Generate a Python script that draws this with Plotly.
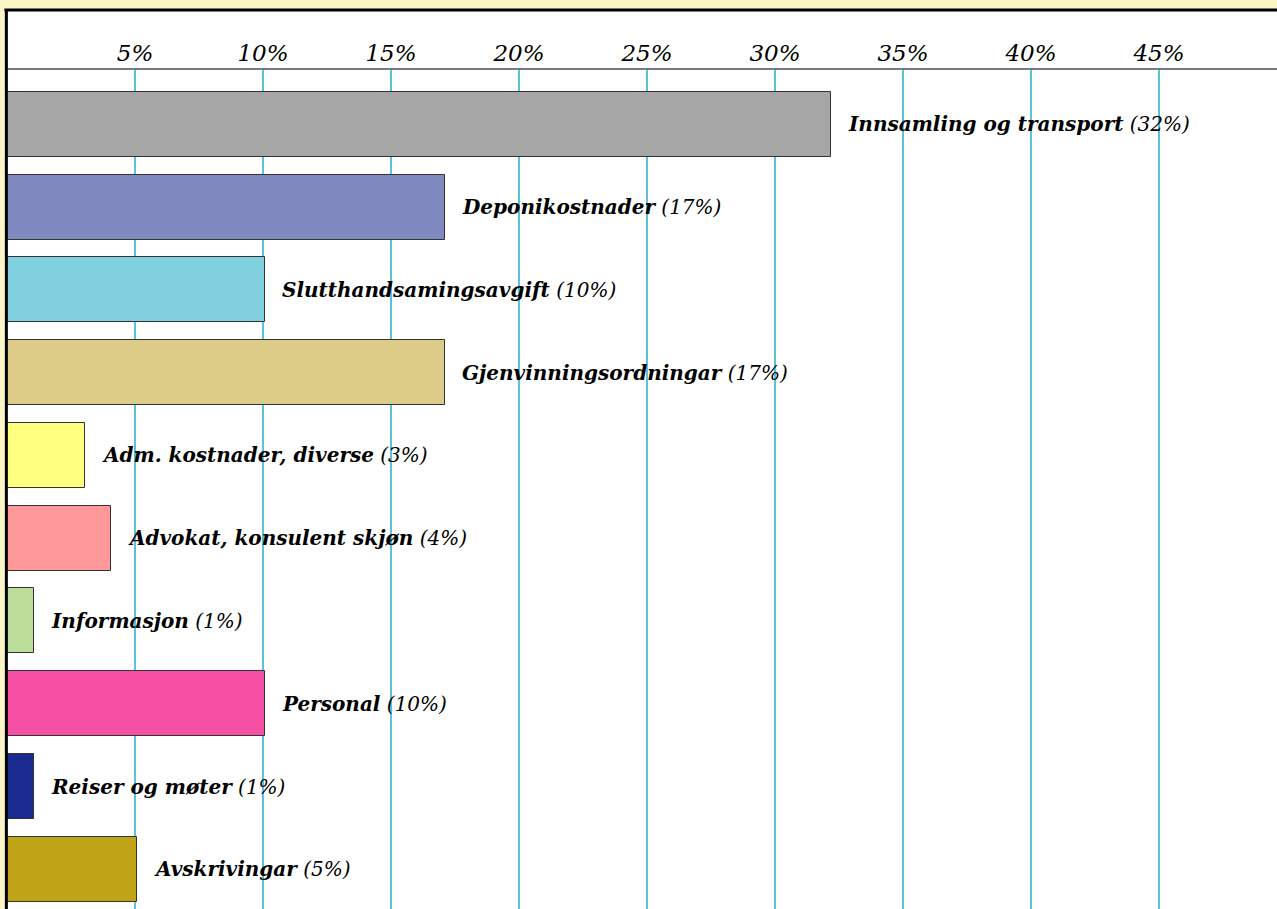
import plotly.graph_objects as go

categories = [
    "Innsamling og transport",
    "Deponikostnader",
    "Slutthandsamingsavgift",
    "Gjenvinningsordningar",
    "Adm. kostnader, diverse",
    "Advokat, konsulent skjøn",
    "Informasjon",
    "Personal",
    "Reiser og møter",
    "Avskrivingar",
]
values = [32.2, 17.1, 10.08, 17.1, 3.06, 4.06, 1.05, 10.08, 1.05, 5.06]
pct_labels = ["32%", "17%", "10%", "17%", "3%", "4%", "1%", "10%", "1%", "5%"]
colors = ["#A6A6A6", "#8088C0", "#80D0E0", "#DDCC88", "#FFFF80",
          "#FF9999", "#BBDD99", "#F650A4", "#1A2A90", "#C0A418"]
tick_vals = [5, 10, 15, 20, 25, 30, 35, 40, 45]
tick_text = ["5%", "10%", "15%", "20%", "25%", "30%", "35%", "40%", "45%"]

SERIF = "DejaVu Serif"
BG = "#FBF6C8"

fig = go.Figure(go.Bar(
    x=values, y=categories, orientation="h",
    marker=dict(color=colors, line=dict(color="#333333", width=1)),
    width=0.785, hoverinfo="skip",
))

for c, v, p in zip(categories, values, pct_labels):
    fig.add_annotation(
        x=v, y=c, xref="x", yref="y", xanchor="left", yanchor="middle",
        xshift=15, showarrow=False,
        text=f"<b>{c}</b> ({p})",
        font=dict(family=SERIF, size=20, color="black", style="italic"),
    )

H = 909
T = 70
ph = H - T
def py(pix):
    return (H - pix) / ph

fig.update_layout(
    width=1277, height=909,
    margin=dict(l=7, r=0, t=T, b=0, pad=0),
    paper_bgcolor=BG,
    plot_bgcolor="white",
    showlegend=False,
    bargap=0,
    shapes=[
        dict(type="rect", xref="paper", yref="paper", x0=0, x1=1.01,
             y0=-0.01, y1=py(10), fillcolor="white", line=dict(width=0), layer="below"),
        dict(type="line", xref="paper", yref="paper", x0=-0.0005, x1=-0.0005,
             y0=-0.01, y1=py(9), line=dict(color="black", width=3), layer="above"),
        dict(type="line", xref="paper", yref="paper", x0=-0.002, x1=1.01,
             y0=py(10), y1=py(10), line=dict(color="black", width=3), layer="above"),
    ],
    xaxis=dict(
        side="top", range=[0, 1270 / 25.6],
        tickvals=tick_vals, ticktext=tick_text,
        tickfont=dict(family=SERIF, size=23, color="black", style="italic"),
        showgrid=True, gridcolor="#5CC2DC", gridwidth=1.5,
        showline=True, linecolor="#7A7A7A", linewidth=2,
        ticks="", ticklabelstandoff=-2, zeroline=False, fixedrange=True,
    ),
    yaxis=dict(
        type="category", range=[9.48, -0.657],
        showticklabels=False, showgrid=False, zeroline=False, showline=False,
        ticks="", fixedrange=True,
    ),
)

fig.write_html(
    "out.html",
    config={"displayModeBar": False},
    post_script=(
        "document.body.style.margin='0';"
        "document.body.style.overflow='hidden';"
        f"document.body.style.background='{BG}';"
    ),
)
